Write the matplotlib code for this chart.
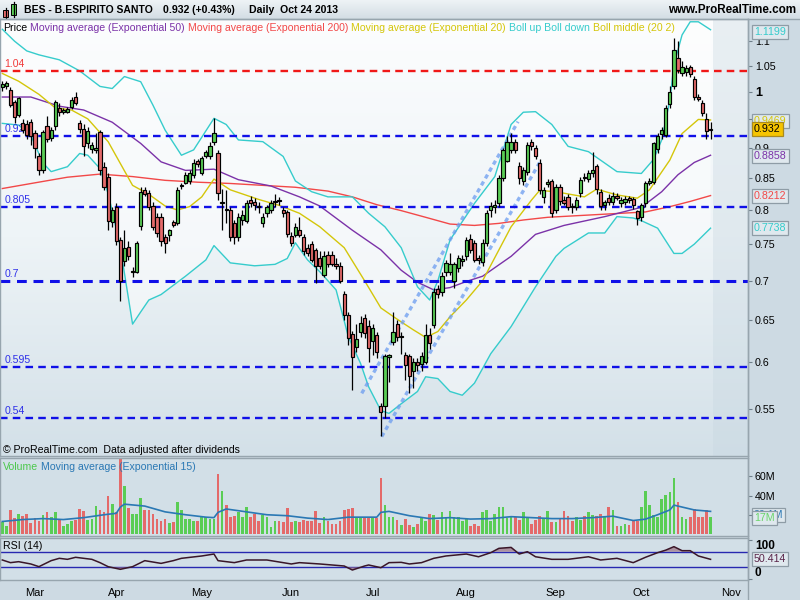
import numpy as np
import matplotlib
matplotlib.use("Agg")
import matplotlib.pyplot as plt
from matplotlib.colors import LinearSegmentedColormap
from matplotlib.lines import Line2D
from matplotlib.patches import Rectangle
from matplotlib.ticker import NullLocator

plt.rcParams["font.family"] = ["Liberation Sans", "DejaVu Sans"]

# ---------------------------------------------------------------- data
# daily candles, 19 Feb 2013 .. 24 Oct 2013 (trading-day index 0..174)
OPEN = [1.008, 1.011, 1.003, 0.981, 0.957, 0.943, 0.940, 0.945, 0.925, 0.885,
        0.862, 0.937, 0.917, 0.937, 0.970, 0.963, 0.963, 0.972, 0.990, 0.943,
        0.932, 0.908, 0.898, 0.895, 0.927, 0.868, 0.852, 0.782, 0.805, 0.756,
        0.726, 0.746, 0.711, 0.712, 0.776, 0.830, 0.826, 0.806, 0.790, 0.790,
        0.760, 0.763, 0.782, 0.780, 0.837, 0.842, 0.845, 0.855, 0.877, 0.857,
        0.886, 0.885, 0.910, 0.890, 0.810, 0.801, 0.800, 0.780, 0.760, 0.785,
        0.784, 0.815, 0.812, 0.806, 0.780, 0.795, 0.800, 0.812, 0.815, 0.800,
        0.797, 0.762, 0.763, 0.770, 0.760, 0.745, 0.750, 0.742, 0.730, 0.708,
        0.735, 0.735, 0.723, 0.720, 0.683, 0.656, 0.633, 0.618, 0.636, 0.652,
        0.643, 0.625, 0.632, 0.553, 0.553, 0.606, 0.624, 0.645, 0.629, 0.608,
        0.607, 0.590, 0.601, 0.598, 0.600, 0.632, 0.644, 0.689, 0.685, 0.712,
        0.712, 0.700, 0.717, 0.727, 0.733, 0.758, 0.752, 0.731, 0.725, 0.752,
        0.800, 0.804, 0.810, 0.850, 0.878, 0.895, 0.910, 0.870, 0.845, 0.860,
        0.910, 0.900, 0.874, 0.820, 0.840, 0.845, 0.800, 0.835, 0.815, 0.820,
        0.806, 0.804, 0.826, 0.852, 0.848, 0.858, 0.869, 0.828, 0.808, 0.818,
        0.812, 0.822, 0.810, 0.812, 0.818, 0.816, 0.798, 0.790, 0.810, 0.842,
        0.843, 0.898, 0.924, 0.922, 0.977, 1.011, 1.066, 1.035, 1.037, 1.048,
        1.025, 0.990, 0.978, 0.950, 0.931]
HIGH = [1.020, 1.020, 1.008, 0.985, 0.990, 0.950, 0.948, 0.950, 0.930, 0.890,
        0.930, 0.955, 0.935, 0.985, 0.978, 0.970, 0.972, 0.990, 1.000, 0.948,
        0.940, 0.935, 0.910, 0.925, 0.930, 0.875, 0.858, 0.805, 0.810, 0.760,
        0.770, 0.755, 0.718, 0.755, 0.835, 0.835, 0.830, 0.812, 0.795, 0.795,
        0.765, 0.772, 0.785, 0.835, 0.842, 0.860, 0.862, 0.880, 0.880, 0.885,
        0.895, 0.910, 0.952, 0.895, 0.832, 0.830, 0.805, 0.785, 0.795, 0.800,
        0.815, 0.822, 0.818, 0.812, 0.795, 0.808, 0.815, 0.825, 0.820, 0.805,
        0.800, 0.768, 0.780, 0.790, 0.765, 0.750, 0.755, 0.745, 0.740, 0.740,
        0.740, 0.740, 0.730, 0.725, 0.686, 0.660, 0.637, 0.645, 0.655, 0.657,
        0.650, 0.645, 0.636, 0.556, 0.610, 0.610, 0.660, 0.650, 0.635, 0.612,
        0.610, 0.605, 0.605, 0.612, 0.645, 0.640, 0.690, 0.695, 0.712, 0.728,
        0.738, 0.725, 0.735, 0.735, 0.760, 0.765, 0.756, 0.735, 0.758, 0.800,
        0.812, 0.815, 0.855, 0.900, 0.920, 0.925, 0.915, 0.875, 0.868, 0.910,
        0.915, 0.905, 0.880, 0.835, 0.848, 0.848, 0.840, 0.840, 0.822, 0.825,
        0.810, 0.820, 0.852, 0.858, 0.862, 0.893, 0.873, 0.832, 0.815, 0.825,
        0.828, 0.826, 0.820, 0.822, 0.822, 0.820, 0.800, 0.810, 0.845, 0.850,
        0.910, 0.925, 0.935, 0.975, 1.010, 1.106, 1.100, 1.060, 1.052, 1.052,
        1.030, 0.995, 0.985, 0.960, 0.945]
LOW = [1.002, 1.005, 0.972, 0.943, 0.953, 0.925, 0.915, 0.905, 0.882, 0.855,
       0.858, 0.910, 0.912, 0.930, 0.955, 0.958, 0.960, 0.968, 0.975, 0.925,
       0.885, 0.900, 0.890, 0.890, 0.855, 0.830, 0.770, 0.775, 0.749, 0.674,
       0.720, 0.728, 0.705, 0.710, 0.770, 0.822, 0.800, 0.770, 0.760, 0.748,
       0.737, 0.755, 0.775, 0.778, 0.832, 0.840, 0.840, 0.850, 0.868, 0.855,
       0.882, 0.880, 0.905, 0.815, 0.770, 0.780, 0.755, 0.750, 0.755, 0.778,
       0.780, 0.805, 0.800, 0.795, 0.775, 0.790, 0.795, 0.805, 0.808, 0.790,
       0.760, 0.748, 0.760, 0.760, 0.735, 0.733, 0.725, 0.697, 0.715, 0.705,
       0.718, 0.720, 0.715, 0.697, 0.650, 0.620, 0.570, 0.612, 0.630, 0.628,
       0.600, 0.608, 0.605, 0.522, 0.540, 0.578, 0.620, 0.625, 0.610, 0.580,
       0.566, 0.572, 0.590, 0.590, 0.598, 0.615, 0.640, 0.678, 0.680, 0.706,
       0.708, 0.690, 0.712, 0.720, 0.728, 0.738, 0.725, 0.722, 0.720, 0.748,
       0.790, 0.795, 0.805, 0.845, 0.875, 0.890, 0.890, 0.840, 0.838, 0.855,
       0.895, 0.880, 0.825, 0.810, 0.835, 0.790, 0.795, 0.808, 0.808, 0.800,
       0.795, 0.800, 0.820, 0.845, 0.843, 0.852, 0.825, 0.800, 0.800, 0.808,
       0.808, 0.815, 0.805, 0.808, 0.810, 0.802, 0.777, 0.783, 0.805, 0.838,
       0.840, 0.890, 0.915, 0.918, 0.970, 1.005, 1.035, 1.030, 1.030, 1.028,
       0.985, 0.982, 0.955, 0.915, 0.915]
CLOSE = [1.014, 1.017, 0.975, 0.954, 0.988, 0.931, 0.922, 0.919, 0.900, 0.862,
         0.927, 0.915, 0.930, 0.980, 0.962, 0.966, 0.968, 0.985, 0.979, 0.932,
         0.902, 0.929, 0.904, 0.900, 0.862, 0.836, 0.784, 0.800, 0.755, 0.700,
         0.744, 0.734, 0.713, 0.751, 0.828, 0.825, 0.805, 0.775, 0.766, 0.755,
         0.752, 0.770, 0.778, 0.830, 0.839, 0.855, 0.858, 0.874, 0.873, 0.882,
         0.892, 0.902, 0.925, 0.826, 0.811, 0.800, 0.760, 0.760, 0.790, 0.793,
         0.810, 0.810, 0.808, 0.805, 0.790, 0.805, 0.810, 0.813, 0.814, 0.795,
         0.765, 0.752, 0.775, 0.763, 0.740, 0.737, 0.728, 0.720, 0.720, 0.733,
         0.723, 0.723, 0.720, 0.700, 0.656, 0.628, 0.606, 0.627, 0.646, 0.634,
         0.617, 0.640, 0.612, 0.546, 0.607, 0.608, 0.636, 0.630, 0.631, 0.597,
         0.585, 0.600, 0.597, 0.607, 0.632, 0.622, 0.685, 0.683, 0.706, 0.724,
         0.722, 0.722, 0.730, 0.729, 0.756, 0.742, 0.728, 0.728, 0.752, 0.796,
         0.806, 0.807, 0.850, 0.895, 0.910, 0.910, 0.895, 0.850, 0.862, 0.905,
         0.902, 0.885, 0.830, 0.830, 0.843, 0.795, 0.835, 0.813, 0.810, 0.804,
         0.805, 0.815, 0.847, 0.849, 0.858, 0.862, 0.832, 0.806, 0.812, 0.812,
         0.822, 0.819, 0.815, 0.817, 0.815, 0.807, 0.788, 0.807, 0.842, 0.845,
         0.908, 0.920, 0.930, 0.970, 1.000, 1.082, 1.042, 1.048, 1.045, 1.033,
         0.990, 0.987, 0.961, 0.928, 0.932]
VOLUME_M = [12, 8.4, 24.5, 16.5, 21, 19, 21, 11, 16.5, 14,
            20, 22.5, 18, 22.5, 14.7, 8.4, 10.5, 13, 14.7, 26.3,
            23.5, 14.7, 15.4, 29.5, 25, 22.5, 39, 31.5, 22.5, 78,
            50, 27, 21, 21, 37, 24.5, 24.5, 21, 15.4, 13,
            15.4, 11, 12, 33, 24.5, 15.4, 15.4, 14, 13.7, 17.5,
            17.5, 15.4, 15.8, 62, 44.6, 30.5, 18, 19, 22.5, 17.5,
            28, 17.5, 21, 13, 20, 17.5, 7, 14, 14, 12,
            27, 12, 13, 12, 14.7, 14, 14, 23.5, 11, 17.5,
            13, 10.5, 10.5, 14, 24.5, 26.3, 27, 17.5, 17.5, 16.5,
            16.5, 16.5, 16.5, 58.6, 30.5, 17.5, 17.5, 14.7,
            9.5, 15.4, 9.5, 7, 10.5, 17.5, 13, 21, 20, 14.7,
            22.5, 17.5, 23.5, 17.5, 17.5, 14, 15.4, 8.4, 10.5, 8.4,
            22.5, 24.5, 14, 21, 28, 28, 16.5, 17.5, 17.5, 14.7,
            22.5, 17.5, 10.5, 14.7, 19, 15.4, 23.5, 12, 12, 15.4,
            23.5, 19, 13, 17.5, 14.7, 19, 22.5, 20, 19, 21,
            17.5, 28, 24.5, 8.4, 8.4, 10.5, 9.5, 14, 14, 28,
            44.6, 30.5, 20, 17.5, 36, 41, 43.5, 58, 33, 18,
            15.4, 17.5, 26.3, 17.5, 17.5, 25, 17.5]

# indicator readings (trading-day index, value)
EMA20_IDX = [0, 4, 9, 13, 17, 21, 26, 32, 36, 40, 43, 46, 49, 52, 56, 63, 68, 73, 78, 84, 89,
             93, 97, 101, 104, 107, 110, 114, 118, 125, 130, 132, 136, 143, 146, 151, 156,
             159, 164, 167, 171, 174]
EMA20_VAL = [1.035, 1.02, 0.995, 0.97, 0.966, 0.95, 0.91, 0.838, 0.824, 0.806, 0.80, 0.805,
             0.82, 0.848, 0.831, 0.816, 0.807, 0.795, 0.775, 0.745, 0.70, 0.665, 0.651, 0.638,
             0.629, 0.636, 0.654, 0.675, 0.70, 0.775, 0.815, 0.83, 0.828, 0.82, 0.832, 0.823,
             0.818, 0.831, 0.879, 0.924, 0.949, 0.948]
EMA50_IDX = [0, 7, 14, 20, 27, 34, 39, 45, 52, 58, 66, 73, 78, 86, 93, 98, 102, 106, 110, 114,
             118, 125, 131, 138, 148, 157, 162, 166, 170, 174]
EMA50_VAL = [0.99, 0.99, 0.973, 0.966, 0.944, 0.907, 0.876, 0.862, 0.864, 0.847, 0.837, 0.82,
             0.806, 0.77, 0.742, 0.714, 0.698, 0.688, 0.691, 0.699, 0.706, 0.733, 0.764, 0.777,
             0.79, 0.804, 0.828, 0.855, 0.875, 0.887]
EMA200_IDX = [0, 8, 16, 24, 32, 40, 48, 56, 64, 72, 80, 86, 92, 98, 104, 110, 116, 122, 128,
              134, 140, 146, 152, 158, 164, 169, 174]
EMA200_VAL = [0.833, 0.842, 0.851, 0.856, 0.852, 0.846, 0.843, 0.841, 0.838, 0.835, 0.829,
              0.82, 0.808, 0.799, 0.789, 0.779, 0.777, 0.78, 0.785, 0.789, 0.791, 0.793, 0.795,
              0.797, 0.805, 0.813, 0.822]
BB_UP_IDX = [0, 3, 6, 9, 14, 19, 24, 27, 30, 34, 37, 40, 44, 47, 52, 55, 58, 64, 69, 72, 76,
             80, 86, 90, 94, 98, 102, 105, 107, 110, 116, 121, 125, 128, 131, 135, 139, 144,
             151, 157, 160, 162, 164, 165, 167, 169, 171, 174]
BB_UP_VAL = [1.125, 1.10, 1.08, 1.072, 1.062, 1.04, 1.01, 1.006, 1.029, 1.019, 0.975, 0.93,
             0.887, 0.896, 0.951, 0.94, 0.913, 0.91, 0.885, 0.845, 0.828, 0.82, 0.82, 0.795,
             0.775, 0.745, 0.692, 0.675, 0.70, 0.756, 0.81, 0.852, 0.94, 0.962, 0.963, 0.94,
             0.902, 0.893, 0.86, 0.857, 0.88, 0.913, 0.984, 1.052, 1.113, 1.141, 1.141, 1.124]
BB_LO_IDX = [0, 4, 7, 10, 12, 16, 19, 21, 24, 26, 29, 30, 32, 34, 36, 39, 45, 50, 52, 56, 62,
             67, 70, 72, 75, 78, 82, 85, 88, 90, 93, 95, 98, 102, 104, 107, 110, 113, 116,
             120, 125, 131, 136, 138, 144, 148, 151, 155, 157, 161, 165, 167, 170, 174]
BB_LO_VAL = [0.942, 0.939, 0.921, 0.874, 0.86, 0.868, 0.89, 0.887, 0.865, 0.825, 0.746, 0.71,
             0.645, 0.66, 0.675, 0.682, 0.706, 0.728, 0.748, 0.724, 0.72, 0.722, 0.73, 0.752,
             0.728, 0.712, 0.688, 0.63, 0.599, 0.573, 0.548, 0.545, 0.555, 0.568, 0.584,
             0.582, 0.568, 0.564, 0.577, 0.61, 0.642, 0.692, 0.733, 0.744, 0.766, 0.766, 0.79,
             0.788, 0.784, 0.773, 0.737, 0.737, 0.75, 0.773]
VOL_EMA_IDX = [0, 5, 10, 15, 20, 25, 28, 29, 30, 35, 40, 45, 50, 52, 53, 55, 60, 65, 70, 75,
               80, 85, 90, 92, 93, 95, 100, 105, 110, 115, 120, 125, 130, 135, 140, 145, 150,
               155, 158, 161, 164, 165, 170, 174]
VOL_EMA_VAL = [13, 15, 16, 15, 17, 20, 21.5, 28, 31, 29, 23, 20, 17.5, 17, 22.5, 26, 23, 20,
               19, 16.5, 15, 17.5, 17.5, 17.5, 22.5, 23.5, 19, 16, 17, 15.5, 16, 18, 17, 16,
               16, 17, 18.5, 14, 15.4, 20, 25, 30, 25, 23.5]
RSI_IDX = [0, 2, 4, 7, 9, 12, 14, 16, 18, 22, 24, 26, 29, 32, 35, 39, 42, 44, 49, 52, 53, 57,
           60, 65, 71, 73, 78, 84, 86, 89, 90, 93, 95, 98, 100, 103, 106, 109, 114, 117, 120,
           122, 125, 127, 129, 131, 135, 139, 144, 147, 151, 155, 158, 161, 163, 165, 167,
           169, 171, 174]
RSI_VAL = [48.7, 41.9, 44.4, 38.5, 31.6, 47, 53, 50.4, 55.6, 50.4, 41.9, 31.6, 24.8, 31.6, 47,
           40, 47, 53, 59, 64, 47, 41.9, 48.7, 48.7, 38.5, 41.9, 38.5, 33.3, 23, 33.3, 35.9,
           29, 41.9, 42.7, 38.5, 41.9, 53, 59, 64, 57, 67.5, 78.6, 81, 64, 70, 57, 50.4, 50.4,
           57, 48.7, 53, 41.9, 55.6, 67.5, 74, 82.9, 72.6, 72.6, 59, 50.4]

MONTH_START = [8, 28, 49, 71, 91, 114, 136, 157, 179]
MONTH_LABELS = ["Mar", "Apr", "May", "Jun", "Jul", "Aug", "Sep", "Oct", "Nov"]
LEVELS = [1.04, 0.92, 0.805, 0.7, 0.595, 0.54]
LEVEL_LABELS = ["1.04", "0.92", "0.805", "0.7", "0.595", "0.54"]
CHANNEL_UPPER = ([88.3, 126.7], [0.566, 0.945])
CHANNEL_LOWER = ([93.2, 132.1], [0.5216, 0.876])
PRICE_TICKS = [1.1, 1.05, 1.0, 0.95, 0.9, 0.85, 0.8, 0.75, 0.7, 0.65, 0.6, 0.55]
# 0.95 sits behind the value boxes in the original, so it carries no label
PRICE_TICK_LABELS = ["1.1", "1.05", "1", "", "0.9", "0.85", "0.8", "0.75", "0.7",
                     "0.65", "0.6", "0.55"]

# ---------------------------------------------------------------- style
GREEN = "#5acd55"
RED = "#e46a6a"
PURPLE = "#7b32a8"
EMA_RED = "#f24848"
YELLOW = "#d4c60a"
CYAN = "#36cccc"
LEVEL_BLUE = "#1010e8"
BORDER = "#97a5ae"
PANEL_BG = "#d2dfe7"
FIG_BG = "#cddae3"
W, H = 800, 600
X_LEFT, X_RIGHT = -0.57, 183.2


def rect(x0, y0, x1, y1):
    return [x0 / W, 1 - y1 / H, (x1 - x0) / W, (y1 - y0) / H]


def style_panel(ax):
    for sp in ax.spines.values():
        sp.set_color(BORDER)
        sp.set_linewidth(1.0)
    ax.set_xlim(X_LEFT, X_RIGHT)
    ax.tick_params(axis="x", length=0, labelbottom=False)
    ax.yaxis.tick_right()
    ax.tick_params(axis="y", direction="out", length=3, width=0.8, color="#6f7f8a",
                   labelsize=7.7, pad=2)


def value_box(ax, y, text, color, face="#dfe8ee", edge="#8e9ca6", z=10):
    ax.text(1.008, y, text, transform=ax.get_yaxis_transform(), ha="left", va="center",
            fontsize=7.7, color=color, zorder=z, clip_on=False,
            bbox=dict(boxstyle="square,pad=0.18", fc=face, ec=edge, lw=0.9))


def chain_text(fig, x_px, y_px, parts, size, weight="normal"):
    renderer = fig.canvas.get_renderer()
    x = x_px
    for s, col in parts:
        t = fig.text(x / W, 1 - y_px / H, s, color=col, fontsize=size, va="center",
                     ha="left", fontweight=weight)
        x = t.get_window_extent(renderer=renderer).x1 + 3


fig = plt.figure(figsize=(8, 6), dpi=100)
fig.patch.set_facecolor(FIG_BG)

# ---------------------------------------------------------------- header
hax = fig.add_axes(rect(0, 0, 800, 19))
hax.set_xlim(0, 800)
hax.set_ylim(19, 0)
hax.axis("off")
hgrad = LinearSegmentedColormap.from_list("hdr", ["#eef3f6", "#d3dde4"])
hax.imshow(np.linspace(0, 1, 64).reshape(-1, 1), extent=[0, 800, 19, 0], cmap=hgrad,
           aspect="auto", zorder=0)
hax.plot([5.5, 5.5], [7.5, 18.5], color="black", lw=0.9)
hax.add_patch(Rectangle((3, 10), 5.2, 7.2, fc=RED, ec="black", lw=0.7))
hax.plot([13.5, 13.5], [1.5, 16.5], color="black", lw=0.9)
hax.add_patch(Rectangle((11, 4), 5.2, 11, fc=GREEN, ec="black", lw=0.7))
fig.add_artist(Line2D([0, 1], [1 - 19 / H, 1 - 19 / H], color=BORDER, lw=1))
fig.text(24 / W, 1 - 10 / H, "BES - B.ESPIRITO SANTO", fontsize=7.5, fontweight="bold",
         va="center")
fig.text(163 / W, 1 - 10 / H, "0.932 (+0.43%)", fontsize=7.6, fontweight="bold", va="center")
fig.text(249 / W, 1 - 10 / H, "Daily  Oct 24 2013", fontsize=7.6, fontweight="bold",
         va="center")
fig.text(796 / W, 1 - 10 / H, "www.ProRealTime.com", fontsize=8.4, fontweight="bold",
         va="center", ha="right")

# ---------------------------------------------------------------- price panel
idx = np.arange(len(CLOSE))
o = np.array(OPEN)
c = np.array(CLOSE)
hi = np.array(HIGH)
lo = np.array(LOW)
up = c >= o

bg = fig.add_axes(rect(0, 19, 748, 456), zorder=0)
bg.axis("off")
pgrad = LinearSegmentedColormap.from_list("pbg", ["#fcfdfe", "#eef4f7", "#d3e0e8"])
bg.imshow(np.linspace(0, 1, 256).reshape(-1, 1), extent=[0, 1, 0, 1], cmap=pgrad,
          aspect="auto")
bg.set_xlim(0, 1)
bg.set_ylim(0, 1)

ax = fig.add_axes(rect(0, 19, 748, 456), zorder=1)
ax.patch.set_alpha(0)
ax.set_yscale("log")
style_panel(ax)
ax.set_ylim(0.5029, 1.147)
ax.yaxis.set_minor_locator(NullLocator())
ax.set_yticks(PRICE_TICKS, labels=PRICE_TICK_LABELS)
for lab in ax.get_yticklabels():
    if lab.get_text() == "1":
        lab.set_fontweight("bold")
        lab.set_fontsize(9)

# future area right of the last candle
ax.axvspan(idx[-1] + 0.7, X_RIGHT, color="#c6d6e0", alpha=0.35, lw=0, zorder=0.5)

# bollinger envelope
env_x = list(BB_UP_IDX) + list(BB_LO_IDX)[::-1]
env_y = list(BB_UP_VAL) + list(BB_LO_VAL)[::-1]
ax.fill(env_x, env_y, color="white", alpha=0.45, lw=0, zorder=0.8)

ax.plot(EMA200_IDX, EMA200_VAL, color=EMA_RED, lw=1.0, zorder=2)
ax.plot(EMA50_IDX, EMA50_VAL, color=PURPLE, lw=1.0, zorder=2)
ax.plot(EMA20_IDX, EMA20_VAL, color=YELLOW, lw=1.0, zorder=2)
ax.plot(BB_UP_IDX, BB_UP_VAL, color=CYAN, lw=1.0, zorder=2)
ax.plot(BB_LO_IDX, BB_LO_VAL, color=CYAN, lw=1.0, zorder=2)

# horizontal levels
for v, lab in zip(LEVELS, LEVEL_LABELS):
    col = "#f01818" if v > 1 else LEVEL_BLUE
    lw = 2.2 if v == 0.7 else 1.7
    ax.axhline(v, color=col, lw=lw, ls=(0, (3.2, 2.2)), zorder=2.5)
    ax.text(0.006, v * 1.004, lab, transform=ax.get_yaxis_transform(), color=col,
            fontsize=7.6, va="bottom", ha="left", alpha=0.85, zorder=2.6)

# trend channel
for xs, ys in (CHANNEL_UPPER, CHANNEL_LOWER):
    ax.plot(xs, ys, color="#6b9cf0", lw=2.4, ls=(0, (1.3, 1.1)), alpha=0.75, zorder=2.2)

# candles
ax.vlines(idx, lo, hi, color="black", lw=0.9, zorder=3)
body_lo = np.minimum(o, c)
body_h = np.maximum(np.abs(c - o), 0.0015)
ax.bar(idx, body_h, bottom=body_lo, width=0.8, color=np.where(up, GREEN, RED),
       edgecolor="black", linewidth=0.85, zorder=4)

value_box(ax, 1.1199, "1.1199", CYAN)
value_box(ax, 0.9469, "0.9469", YELLOW)
value_box(ax, 0.932, "0.932", "black", face="#f6c400", edge="#a88a20", z=11)
value_box(ax, 0.8858, "0.8858", PURPLE)
value_box(ax, 0.8212, "0.8212", EMA_RED)
value_box(ax, 0.7738, "0.7738", CYAN)

chain_text(fig, 3, 28, [("Price", "black"),
                        ("Moving average (Exponential 50)", PURPLE),
                        ("Moving average (Exponential 200)", EMA_RED),
                        ("Moving average (Exponential 20)", YELLOW),
                        ("Boll up Boll down", CYAN),
                        ("Boll middle (20 2)", YELLOW)], 7.6)
fig.text(3 / W, 1 - 450 / H, "\u00a9 ProRealTime.com  Data adjusted after dividends",
         fontsize=7.6, va="center")

# ---------------------------------------------------------------- volume panel
axv = fig.add_axes(rect(0, 458, 748, 536))
axv.set_facecolor(PANEL_BG)
style_panel(axv)
axv.set_ylim(-2.1, 79)
axv.bar(idx, VOLUME_M, width=0.66, color=np.where(up, GREEN, RED), lw=0, zorder=2)
axv.plot(VOL_EMA_IDX, VOL_EMA_VAL, color="#2a78b4", lw=1.2, zorder=3)
# the 20M label is covered by the value boxes in the original
axv.set_yticks([20, 40, 60], labels=["", "40M", "60M"])
value_box(axv, 20.1, "20.1M", "#2a78b4")
value_box(axv, 17, "17M", "#6ad66a", z=11)
chain_text(fig, 3, 467, [("Volume", "#4cc84c"),
                         ("Moving average (Exponential 15)", "#2a78b4")], 7.6)

# ---------------------------------------------------------------- RSI panel
axr = fig.add_axes(rect(0, 538, 748, 580))
axr.set_facecolor(PANEL_BG)
style_panel(axr)
axr.set_ylim(-2.6, 105.1)
rsi = np.array(RSI_VAL, dtype=float)
axr.axhline(70, color="#2828b0", lw=1.0, zorder=2)
axr.axhline(30, color="#2828b0", lw=1.0, zorder=2)
axr.fill_between(RSI_IDX, rsi, 70, where=rsi > 70, interpolate=True, color="#a07888",
                 alpha=0.75, lw=0, zorder=2.5)
axr.fill_between(RSI_IDX, rsi, 30, where=rsi < 30, interpolate=True, color="#a07888",
                 alpha=0.75, lw=0, zorder=2.5)
axr.plot(RSI_IDX, rsi, color="#3a1628", lw=1.1, zorder=3)
axr.set_yticks([0, 100], labels=["0", "100"])
for lab in axr.get_yticklabels():
    lab.set_fontweight("bold")
    lab.set_fontsize(8.5)
    if lab.get_text() == "0":
        lab.set_verticalalignment("bottom")
    else:
        lab.set_verticalalignment("top")
value_box(axr, 50.414, "50.414", "#5a2448")
fig.text(3 / W, 1 - 546 / H, "RSI (14)", fontsize=7.6, va="center")

axr.set_xticks(MONTH_START, labels=MONTH_LABELS)
axr.tick_params(axis="x", length=0, labelbottom=True, labelsize=8, pad=6)

fig.add_artist(Line2D([748 / W, 748 / W], [0, 1 - 19 / H], color=BORDER, lw=1))

fig.savefig("out.png", dpi=100, facecolor=FIG_BG)
